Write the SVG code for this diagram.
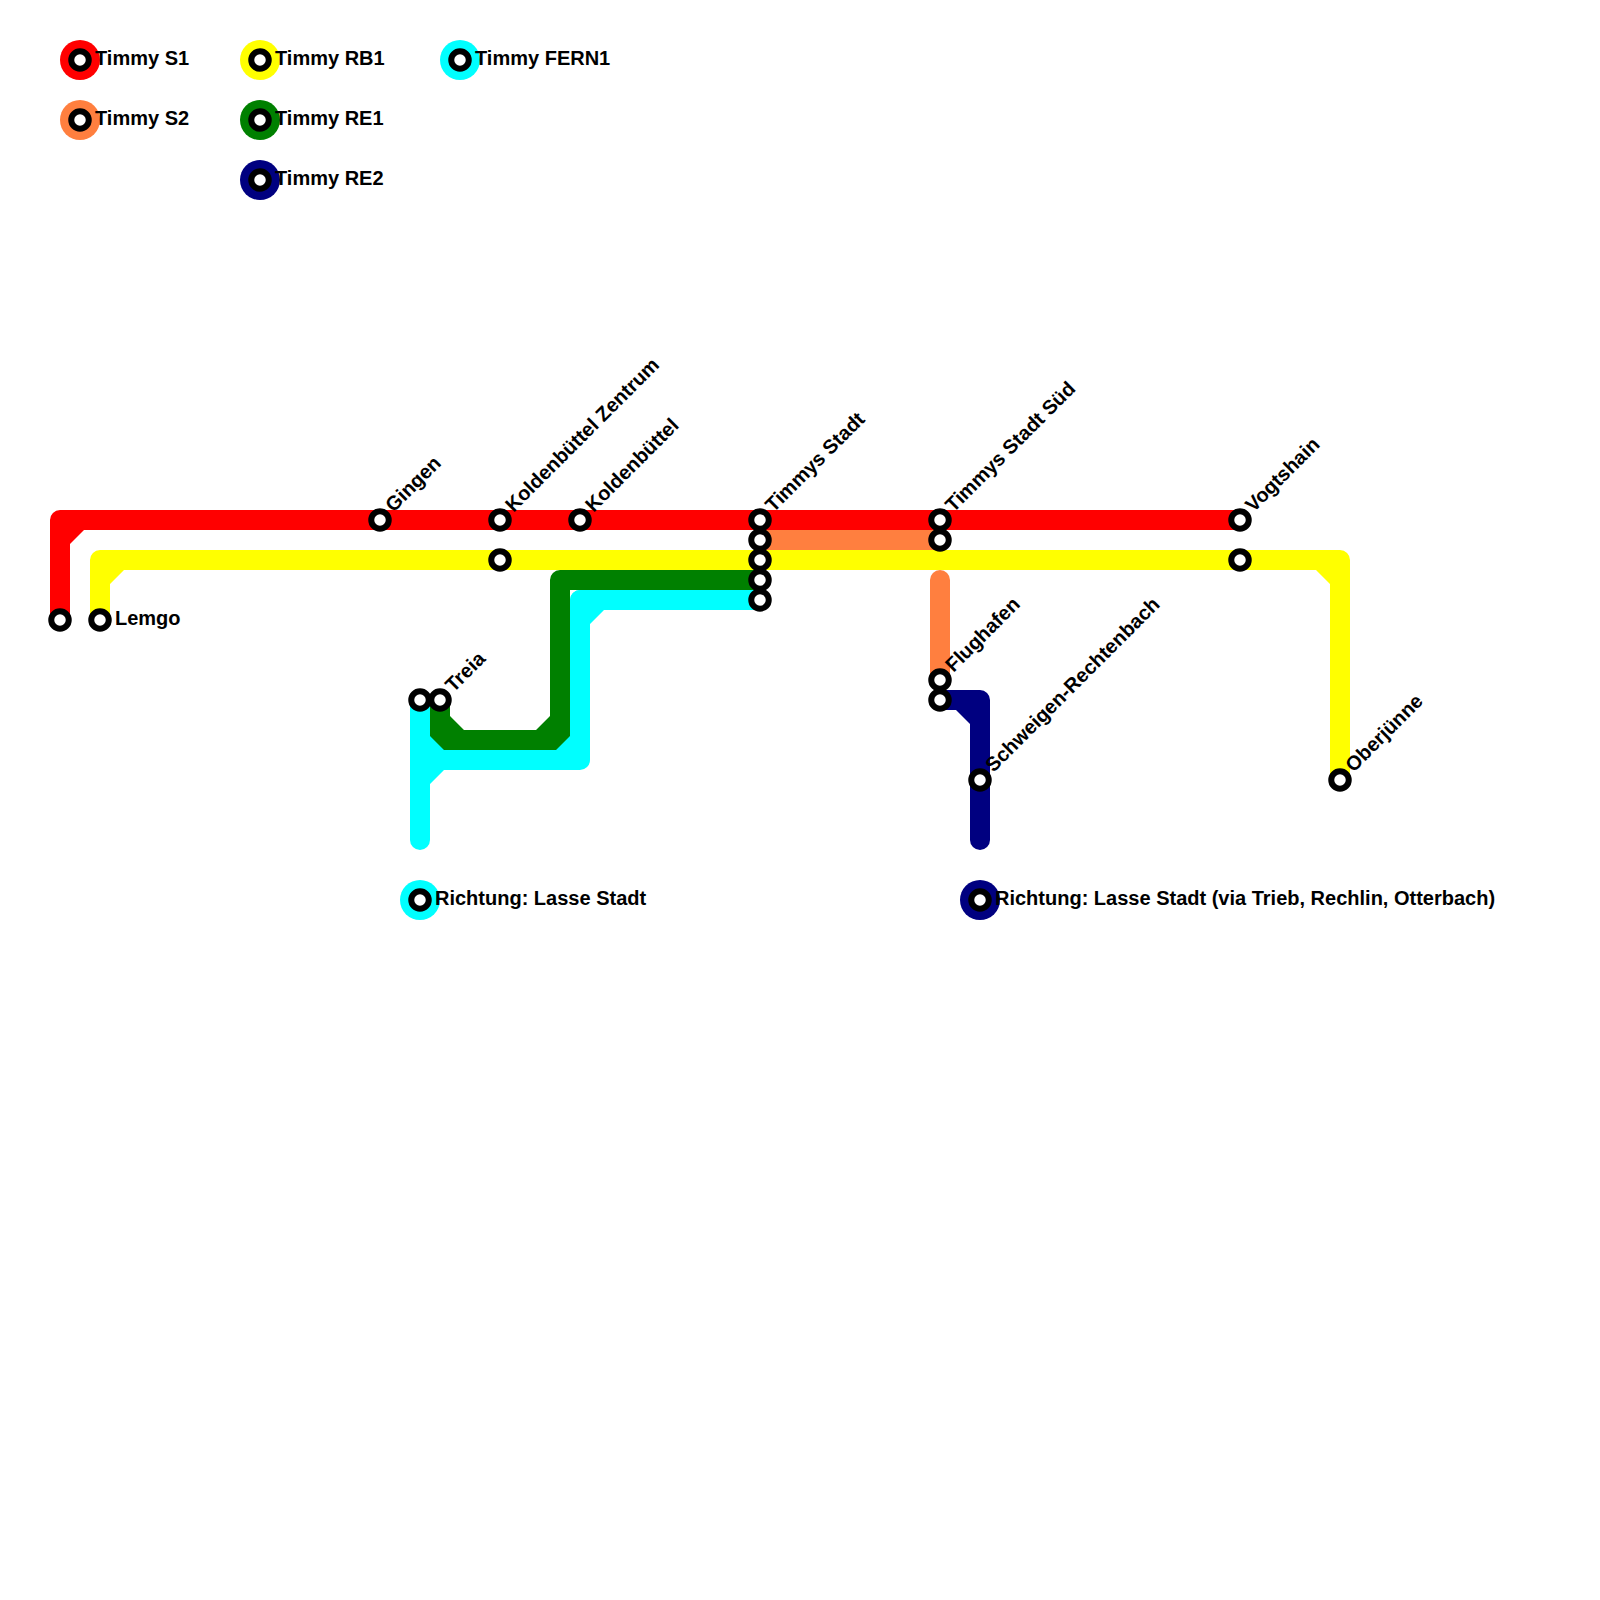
<svg xmlns="http://www.w3.org/2000/svg" width="1600" height="1600" viewBox="0 0 1600 1600">
<style>
.l{fill:none;stroke-width:20;stroke-linejoin:round;stroke-linecap:round}
.b{stroke-linecap:butt}
.s{fill:#fff;stroke:#000;stroke-width:6}
text{font-family:"Liberation Sans",Arial,sans-serif;font-weight:700;font-size:20px;fill:#000}
</style>
<defs>
<g id="st"><circle class="s" r="8.75"/></g>
</defs>
<rect width="1600" height="1600" fill="#fff"/>
<g id="connectors">
<g id="line-s1"><path class="l b" stroke="#f00" d="M60 620V520H1240"/><path fill="#f00" d="M70 530V544L84 530Z"/></g>
<g id="line-s2"><path class="l b" stroke="#ff7f3f" d="M760 540H940"/><path class="l" stroke="#ff7f3f" d="M940 580V670"/><path class="l b" stroke="#ff7f3f" d="M940 660V680"/></g>
<g id="line-rb1"><path class="l b" stroke="#ff0" d="M100 620V560H1340V780"/><path fill="#ff0" d="M110 570V584L124 570ZM1330 570V584L1316 570Z"/></g>
<g id="line-re1"><path class="l b" stroke="#008000" d="M440 700V740H560V580H760"/><path fill="#008000" d="M450 730V716L464 730ZM550 730V716L536 730Z"/></g>
<g id="line-fern1"><path class="l b" stroke="#0ff" d="M420 700V830"/><path class="l" stroke="#0ff" d="M420 760H580V600"/><path class="l" stroke="#0ff" d="M420 830V840"/><path class="l b" stroke="#0ff" d="M580 640V600H760"/><path fill="#0ff" d="M430 750V736L444 750ZM430 770V784L444 770ZM570 750V736L556 750ZM590 610V624L604 610Z"/></g>
<g id="line-re2"><path class="l b" stroke="#000080" d="M940 700H980V830"/><path class="l" stroke="#000080" d="M980 830V840"/><path fill="#000080" d="M970 710V724L956 710Z"/></g>
</g>
<g id="legend-s1"><circle cx="80" cy="60" r="20" fill="#f00"/><use href="#st" x="80" y="60"/><text x="95" y="65">Timmy S1</text></g>
<g id="legend-s2"><circle cx="80" cy="120" r="20" fill="#ff7f3f"/><use href="#st" x="80" y="120"/><text x="95" y="125">Timmy S2</text></g>
<g id="legend-rb1"><circle cx="260" cy="60" r="20" fill="#ff0"/><use href="#st" x="260" y="60"/><text x="275" y="65">Timmy RB1</text></g>
<g id="legend-re1"><circle cx="260" cy="120" r="20" fill="#008000"/><use href="#st" x="260" y="120"/><text x="275" y="125">Timmy RE1</text></g>
<g id="legend-re2"><circle cx="260" cy="180" r="20" fill="#000080"/><use href="#st" x="260" y="180"/><text x="275" y="185">Timmy RE2</text></g>
<g id="legend-fern1"><circle cx="460" cy="60" r="20" fill="#0ff"/><use href="#st" x="460" y="60"/><text x="475" y="65">Timmy FERN1</text></g>
<g id="dir-fern"><circle cx="420" cy="900" r="20" fill="#0ff"/><use href="#st" x="420" y="900"/><text x="435" y="905">Richtung: Lasse Stadt</text></g>
<g id="dir-re2"><circle cx="980" cy="900" r="20" fill="#000080"/><use href="#st" x="980" y="900"/><text x="995" y="905">Richtung: Lasse Stadt (via Trieb, Rechlin, Otterbach)</text></g>
<g id="st-a"><use href="#st" x="60" y="620"/></g>
<g id="st-lemgo"><use href="#st" x="100" y="620"/><text x="115" y="625">Lemgo</text></g>
<g id="st-gingen"><use href="#st" x="380" y="520"/><text transform="translate(393.5 513) rotate(-45)">Gingen</text></g>
<g id="st-kz"><use href="#st" x="500" y="520"/><text transform="translate(513.5 513) rotate(-45)">Koldenbüttel Zentrum</text></g>
<g id="st-kz2"><use href="#st" x="500" y="560"/></g>
<g id="st-k"><use href="#st" x="580" y="520"/><text transform="translate(593.5 513) rotate(-45)">Koldenbüttel</text></g>
<g id="st-ts"><use href="#st" x="760" y="520"/><text transform="translate(773.5 513) rotate(-45)">Timmys Stadt</text></g>
<g id="st-ts2"><use href="#st" x="760" y="540"/></g>
<g id="st-ts3"><use href="#st" x="760" y="560"/></g>
<g id="st-ts4"><use href="#st" x="760" y="580"/></g>
<g id="st-ts5"><use href="#st" x="760" y="600"/></g>
<g id="st-tss"><use href="#st" x="940" y="520"/><text transform="translate(953.5 513) rotate(-45)">Timmys Stadt Süd</text></g>
<g id="st-tss2"><use href="#st" x="940" y="540"/></g>
<g id="st-v"><use href="#st" x="1240" y="520"/><text transform="translate(1253.5 513) rotate(-45)">Vogtshain</text></g>
<g id="st-v2"><use href="#st" x="1240" y="560"/></g>
<g id="st-o"><use href="#st" x="1340" y="780"/><text transform="translate(1353.5 773) rotate(-45)">Oberjünne</text></g>
<g id="st-f"><use href="#st" x="940" y="680"/><text transform="translate(953.5 673) rotate(-45)">Flughafen</text></g>
<g id="st-f2"><use href="#st" x="940" y="700"/></g>
<g id="st-sr"><use href="#st" x="980" y="780"/><text transform="translate(993.5 773) rotate(-45)">Schweigen-Rechtenbach</text></g>
<g id="st-t0"><use href="#st" x="420" y="700"/></g>
<g id="st-t"><use href="#st" x="440" y="700"/><text transform="translate(453.5 693) rotate(-45)">Treia</text></g>
</svg>
